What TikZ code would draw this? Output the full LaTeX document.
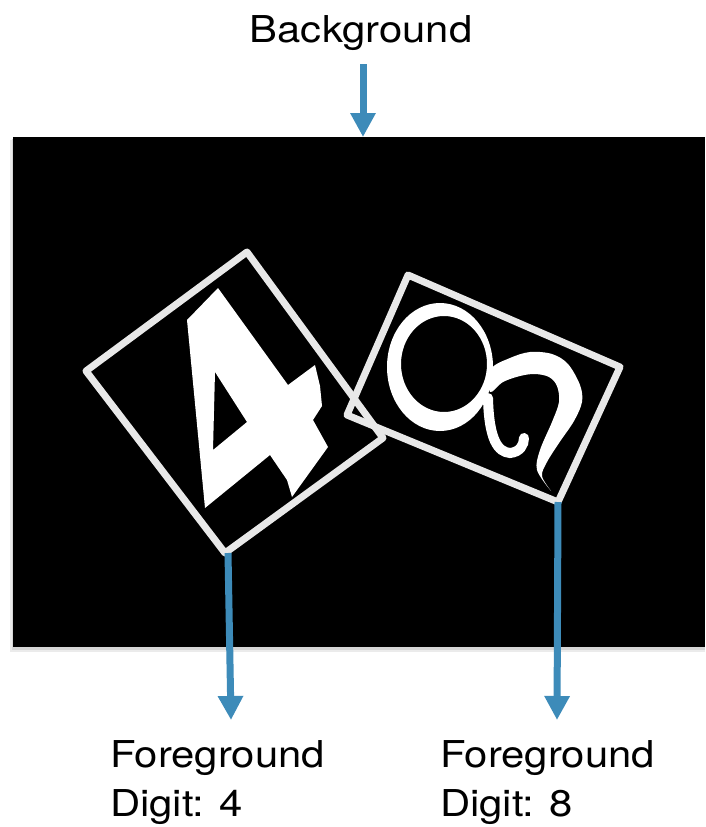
\documentclass[tikz,border=0pt]{standalone}
\usepackage{fontspec}
\setmainfont{TeX Gyre Heros}
\usetikzlibrary{arrows.meta}
\definecolor{arrowblue}{RGB}{61,139,185}
\definecolor{boxgray}{RGB}{232,232,232}
\begin{document}
\begin{tikzpicture}[x=1pt,y=-1pt,
  callout/.style={draw=arrowblue, line width=7pt, -{Triangle[width=24pt,length=24pt]}},
  digitbox/.style={draw=boxgray, line width=7pt, line join=round},
  lbl/.style={inner sep=0pt, font=\fontsize{37}{44}\selectfont}]
\useasboundingbox (0,0) rectangle (705,827);
% background image with soft shadow
\fill[black!8] (10,140) rectangle (705,652);
\fill[black!16] (11.5,139) rectangle (705,650);
\fill[black] (13,137) rectangle (705,647);
% digit 4
\fill[white, even odd rule]
  (218,288) -- (288,385) -- (315,365) -- (320,386) -- (322,406) -- (313,420)
  -- (328,447) -- (292,497) -- (287,480) -- (270,455) -- (205,508) -- (187,320) -- cycle
  (215,372) -- (247,422) -- (213,450) -- cycle;
% digit 8 (rotated, cursive)
\fill[white, even odd rule] (440,367) ellipse [x radius=53pt, y radius=64pt]
  (444,364) ellipse [x radius=43pt, y radius=48pt];
\fill[white] plot[smooth cycle, tension=0.55] coordinates {
  (491,369) (510,358) (530,352) (552,354) (568,364) (580,385) (582,402) (574,421)
  (559,443) (547,462) (542,476) (551,491)
  (537,470) (540,450) (552,422) (559,402) (557,386) (549,377) (535,374) (520,376)
  (503,382) (490,392)};
\draw[white, line width=10pt, line cap=round]
  (488,398) .. controls (489,440) and (498,452) .. (510,453)
  .. controls (520,452) and (524,445) .. (524,438);
% boxes
\coordinate (f4t) at (247,252);
\coordinate (f4l) at (86,371);
\coordinate (f4b) at (225,553);
\coordinate (f4r) at (383,438);
\coordinate (f8t) at (408,275);
\coordinate (f8r) at (620,367);
\coordinate (f8b) at (558,502);
\coordinate (f8l) at (347,415);
\draw[digitbox] (f4t) -- (f4r) -- (f4b) -- (f4l) -- cycle;
\draw[digitbox] (f8t) -- (f8r) -- (f8b) -- (f8l) -- cycle;
% labels
\node[lbl, anchor=base] (bg) at (361,42) {\scalebox{1.13}[1]{Background}};
\node[lbl, anchor=base west] (fg4a) at (110,767) {\scalebox{1.13}[1]{Foreground}};
\node[lbl, anchor=base west] (fg4b) at (110,816) {\scalebox{1.13}[1]{Digit: 4}};
\node[lbl, anchor=base west] (fg8a) at (440,767) {\scalebox{1.13}[1]{Foreground}};
\node[lbl, anchor=base west] (fg8b) at (440,816) {\scalebox{1.13}[1]{Digit: 8}};
% arrows
\coordinate (bgtip) at (363,137);
\coordinate (fg4tip) at (231,720);
\coordinate (fg8tip) at (557,720);
\draw[callout] (bg.south -| bgtip) ++(0,14) -- (bgtip);
\draw[callout] ([xshift=3pt]f4b) -- (fg4tip);
\draw[callout] (f8b) -- (fg8tip);
\end{tikzpicture}
\end{document}
